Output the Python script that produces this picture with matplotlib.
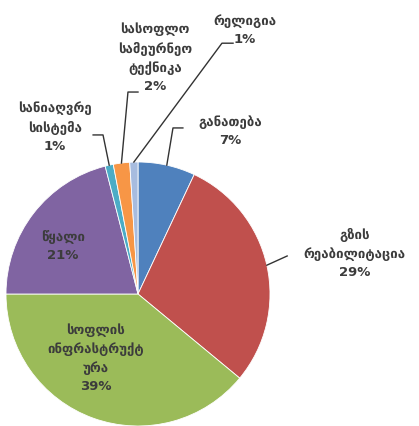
import matplotlib
matplotlib.use('Agg')
import numpy as np
import matplotlib.pyplot as plt

# წილები (%), საათის ისრის მიმართულებით ზემოდან
categories = ['განათება', 'გზის\nრეაბილიტაცია', 'სოფლის\nინფრასტრუქტ\nურა', 'წყალი',
              'სანიაღვრე\nსისტემა', 'სასოფლო\nსამეურნეო\nტექნიკა', 'რელიგია']
values = [7, 29, 39, 21, 1, 2, 1]
colors = ['#4F81BD', '#C0504D', '#9BBB59', '#8064A2', '#4BACC6', '#F79646', '#A7BCDF']

# label text centres, and leader elbows (None = label inside slice)
label_pos = [(0.70, 1.23), (1.64, 0.31), (-0.32, -0.485), (-0.57, 0.36),
             (-0.63, 1.265), (0.13, 1.79), (0.81, 2.0)]
elbows = [[(0.265, 1.258), (0.34, 1.258)],
          [(1.13, 0.288)],
          None, None,
          [(-0.265, 1.205), (-0.34, 1.205)],
          [(-0.076, 1.53), (0.0, 1.53)],
          [(0.636, 1.90), (0.72, 1.90)]]

W, H = 419, 426
fig = plt.figure(figsize=(W/100, H/100), dpi=100)
cx, cy, r = 138, 294, 132
ax = fig.add_axes([(cx-r)/W, (H-cy-r)/H, 2*r/W, 2*r/H])

wedges, _ = ax.pie(values, colors=colors, startangle=90, counterclock=False,
                   radius=1, wedgeprops=dict(edgecolor='white', linewidth=0.6))
ax.set_xlim(-1, 1)
ax.set_ylim(-1, 1)
ax.axis('off')
for w in wedges:
    w.set_clip_on(False)

tc = '#3c3c3c'
for i, (w, cat, v) in enumerate(zip(wedges, categories, values)):
    ang = np.deg2rad((w.theta1 + w.theta2) / 2)
    ax.text(label_pos[i][0], label_pos[i][1], f'{cat}\n{v}%', ha='center', va='center',
            multialignment='center', fontsize=9.5, fontweight='bold', color=tc,
            linespacing=1.5, family='DejaVu Sans', clip_on=False)
    if elbows[i] is not None:
        pts = [(np.cos(ang), np.sin(ang))] + elbows[i]
        xs, ys = zip(*pts)
        ax.plot(xs, ys, color='#333333', lw=1, clip_on=False)

fig.savefig('out.png', dpi=100)
